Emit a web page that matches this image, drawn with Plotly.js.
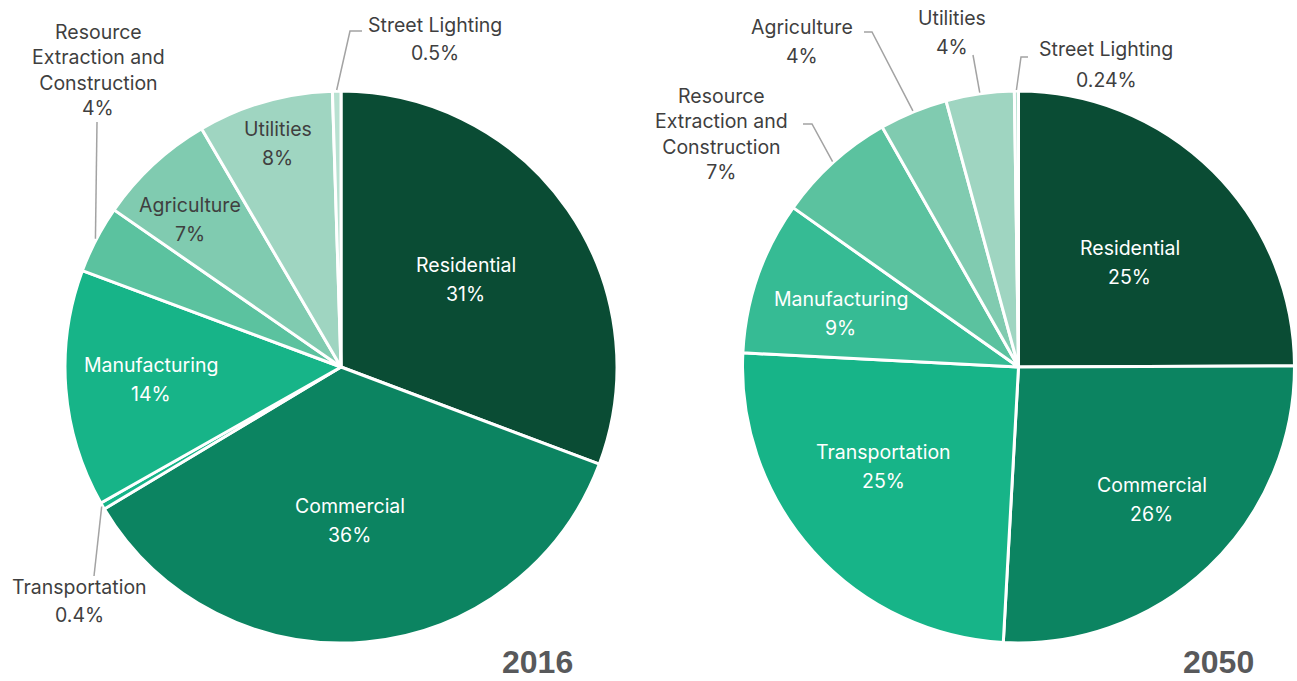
<!DOCTYPE html>
<html>
<head>
<meta charset="utf-8">
<script src="https://cdn.plot.ly/plotly-3.0.1.min.js"></script>
<style>html,body{margin:0;padding:0;background:#fff;}#chart{width:1297px;height:681px;}</style>
</head>
<body>
<div id="chart"></div>
<script>
// ---- data ----
const categories = ['Residential', 'Commercial', 'Transportation', 'Manufacturing',
  'Resource Extraction and Construction', 'Agriculture', 'Utilities', 'Street Lighting'];
const displayNames = ['Residential', 'Commercial', 'Transportation', 'Manufacturing',
  'Resource<br>Extraction and<br>Construction', 'Agriculture', 'Utilities', 'Street Lighting'];
const values2016 = [31, 36, 0.4, 14, 4, 7, 8, 0.5];
const values2050 = [25, 26, 25, 9, 7, 4, 4, 0.24];
const years = ['2016', '2050'];

// ---- styling / layout ----
const colors2016 = ['#0a4c34', '#0c8461', '#17b488', '#17b488', '#5bc29f', '#80cbb0', '#9fd5c1', '#b8e1d1'];
const colors2050 = ['#0a4c34', '#0c8461', '#17b488', '#36bb94', '#5bc29f', '#80cbb0', '#9fd5c1', '#b8e1d1'];
const W = 1297, H = 681;
const FONT = 'Inter, Roboto, sans-serif';
const FS = 19.5;
const DARK = '#3f3f3f';

const pieGeom = [
  {cx: 341, cy: 367, R: 276},
  {cx: 1018.5, cy: 367, R: 276}
];

// label placement: inside -> radius fraction along bisector (+ pixel nudge); outside -> explicit label spot + leader
const labelCfg = [
  { // 2016
    inside: {
      0: {rf: 0.55, dx: 0, dy: -2, color: '#fff'},
      1: {rf: 0.55, dx: -5, dy: 2, color: '#fff'},
      3: {rf: 0.69, dx: 0, dy: -3, color: '#fff'},
      5: {rf: 0.77, dx: -7, dy: 8, color: DARK},
      6: {rf: 0.84, dx: 1, dy: -1, color: DARK}
    },
    outside: {
      7: {x: 435, yName: 25, yVal: 53, pts: [[350, 31], [362, 31]]},
      4: {x: 98, yName: 57.5, yVal: 108, pts: [[97, 122]]},
      2: {x: 79, yName: 587, yVal: 615, pts: [[94, 576]]}
    }
  },
  { // 2050
    inside: {
      0: {rf: 0.56, dx: 2, dy: 4, color: '#fff'},
      1: {rf: 0.68, dx: 4, dy: -4, color: '#fff'},
      2: {rf: 0.61, dx: -10, dy: -14, color: '#fff'},
      3: {rf: 0.67, dx: -3, dy: 7, color: '#fff'}
    },
    outside: {
      4: {x: 721, yBlock: 134, pts: [[812, 124], [803, 124]]},
      5: {x: 802, yName: 27, yVal: 56, pts: [[872, 32], [864, 32]]},
      6: {x: 952, yName: 18, yVal: 47, pts: [[973, 55]]},
      7: {x: 1106, yName: 49, yVal: 80, pts: [[1021, 57], [1028, 57]]}
    }
  }
];

const seriesValues = [values2016, values2050];
const seriesColors = [colors2016, colors2050];

function midAngle(vals, i) {
  const total = vals.reduce((a, b) => a + b, 0);
  let before = 0;
  for (let k = 0; k < i; k++) before += vals[k];
  return (before + vals[i] / 2) / total * 2 * Math.PI; // clockwise from 12 o'clock
}
const px = x => x / W;
const py = y => 1 - y / H;

const data = [];
const annotations = [];
const shapes = [];

seriesValues.forEach((vals, s) => {
  const g = pieGeom[s];
  data.push({
    type: 'pie',
    labels: categories,
    values: vals,
    sort: false,
    direction: 'clockwise',
    rotation: 0,
    textinfo: 'none',
    hoverinfo: 'label+value',
    showlegend: false,
    marker: {colors: seriesColors[s], line: {color: '#ffffff', width: 3}},
    domain: {x: [px(g.cx - g.R), px(g.cx + g.R)], y: [py(g.cy + g.R), py(g.cy - g.R)]}
  });

  const cfg = labelCfg[s];
  const label = (text, x, yCenter, color) => {
    annotations.push({
      xref: 'paper', yref: 'paper', x: px(x), y: py(yCenter),
      text: text, showarrow: false, xanchor: 'center', yanchor: 'middle', align: 'center',
      borderpad: 0,
      font: {family: FONT, size: FS, color: color}
    });
  };
  const valText = v => v + '%';

  Object.keys(cfg.inside).forEach(key => {
    const i = +key, c = cfg.inside[key];
    const a = midAngle(vals, i);
    const x = g.cx + c.rf * g.R * Math.sin(a) + c.dx;
    const y = g.cy - c.rf * g.R * Math.cos(a) + c.dy;
    label(displayNames[i], x, y - 14, c.color);
    label(valText(vals[i]), x, y + 15, c.color);
  });

  Object.keys(cfg.outside).forEach(key => {
    const i = +key, c = cfg.outside[key];
    if (c.yBlock !== undefined) {
      label(displayNames[i] + '<br>' + valText(vals[i]), c.x, c.yBlock, DARK);
    } else {
      label(displayNames[i], c.x, c.yName, DARK);
      label(valText(vals[i]), c.x, c.yVal, DARK);
    }
    const a = midAngle(vals, i);
    const ex = g.cx + (g.R + 1) * Math.sin(a);
    const ey = g.cy - (g.R + 1) * Math.cos(a);
    let path = 'M ' + px(ex) + ' ' + py(ey);
    c.pts.forEach(p => { path += ' L ' + px(p[0]) + ' ' + py(p[1]); });
    shapes.push({type: 'path', xref: 'paper', yref: 'paper', path: path,
      line: {color: '#a3a3a3', width: 1.5}});
  });
});

// year captions
[537, 1218].forEach((x, s) => {
  annotations.push({
    xref: 'paper', yref: 'paper', x: px(x), y: 0,
    text: '<b>' + years[s] + '</b>', showarrow: false, xanchor: 'center', yanchor: 'bottom',
    borderpad: 0,
    font: {family: 'Liberation Sans, Arial, sans-serif', size: 32, color: '#58595b'}
  });
});

const layout = {
  width: W, height: H,
  margin: {l: 0, r: 0, t: 0, b: 0},
  paper_bgcolor: '#ffffff',
  plot_bgcolor: '#ffffff',
  showlegend: false,
  annotations: annotations,
  shapes: shapes
};

Plotly.newPlot('chart', data, layout, {staticPlot: true, displayModeBar: false});
</script>
</body>
</html>
